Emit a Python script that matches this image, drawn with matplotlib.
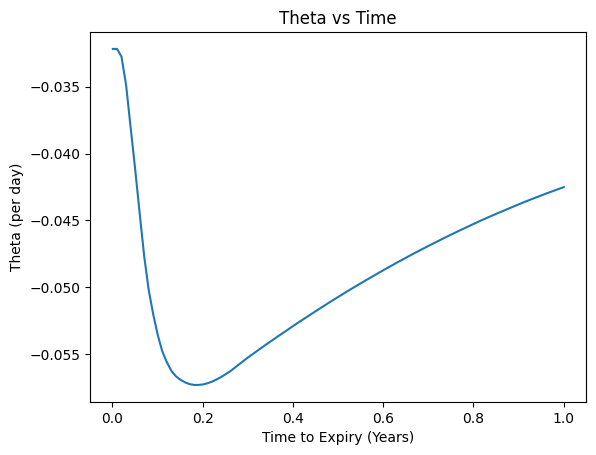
import matplotlib
matplotlib.use("Agg")
import matplotlib.pyplot as plt

time_to_expiry = [0.001, 0.0102, 0.0201, 0.0303, 0.0403, 0.0504, 0.0604, 0.0706,
                  0.0805, 0.0907, 0.1007, 0.1106, 0.1208, 0.1308, 0.1409, 0.1509,
                  0.1611, 0.171, 0.1812, 0.1912, 0.2013, 0.2113, 0.2212, 0.2314,
                  0.2414, 0.2611, 0.298, 0.3347, 0.3717, 0.4086, 0.4454, 0.4823,
                  0.5192, 0.556, 0.5929, 0.6299, 0.6666, 0.6998, 0.7405, 0.7737,
                  0.8142, 0.8473, 0.8878, 0.921, 0.9617, 1.0]
theta = [-0.03218, -0.03218, -0.03275, -0.03485, -0.0380, -0.04114, -0.04444, -0.04770,
         -0.05020, -0.05205, -0.05358, -0.05478, -0.0556, -0.05624, -0.05665, -0.05691,
         -0.0571, -0.05723, -0.05729, -0.05729, -0.05725, -0.05716, -0.05704, -0.05687,
         -0.05669, -0.05627, -0.0553, -0.05441, -0.05355, -0.0527, -0.05189, -0.05109,
         -0.05032, -0.04958, -0.04886, -0.04816, -0.04749, -0.04691, -0.04622, -0.04568,
         -0.04504, -0.04455, -0.04397, -0.04351, -0.04298, -0.04251]

fig, ax = plt.subplots(figsize=(6.4, 4.8), dpi=100)
ax.plot(time_to_expiry, theta)
ax.set_title("Theta vs Time")
ax.set_xlabel("Time to Expiry (Years)")
ax.set_ylabel("Theta (per day)")
fig.savefig("out.png", bbox_inches="tight")
